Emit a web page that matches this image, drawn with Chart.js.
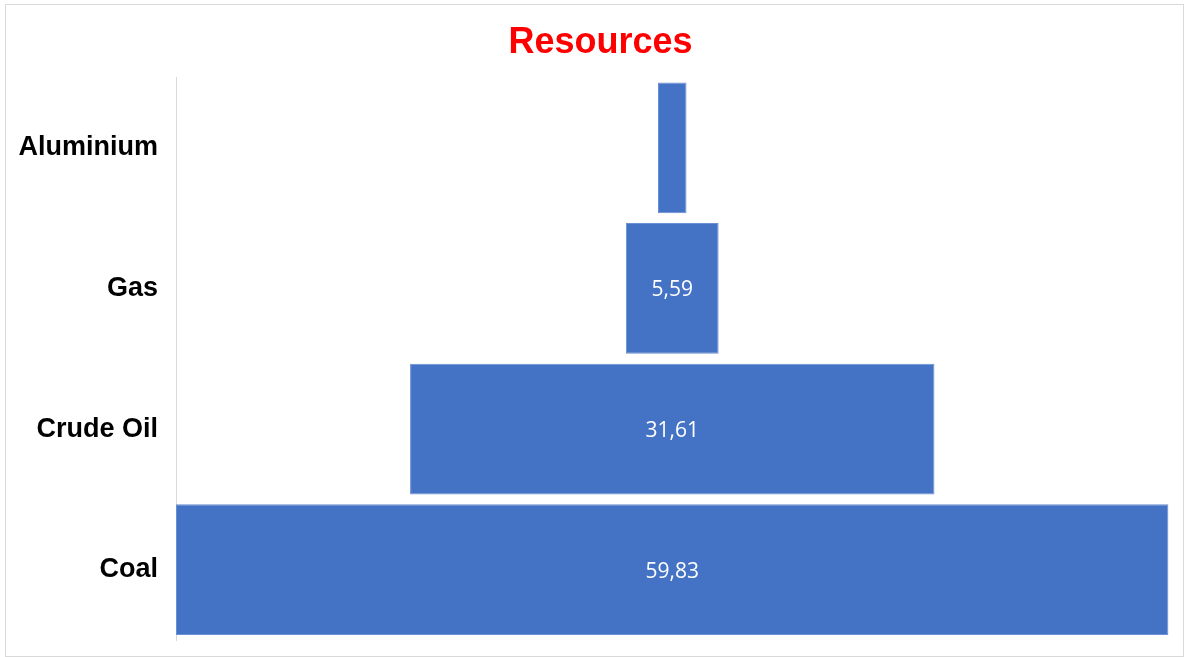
<!DOCTYPE html>
<html>
<head>
<meta charset="utf-8">
<title>Resources</title>
<script src="https://cdn.jsdelivr.net/npm/chart.js@4.4.1/dist/chart.umd.min.js"></script>
<style>
  html, body { margin: 0; padding: 0; background: #ffffff; }
  #wrap { width: 1184px; height: 657px; position: relative; }
</style>
</head>
<body>
<div id="wrap"><canvas id="chart" width="1184" height="657"></canvas></div>
<script>
// Funnel of resources: one centred floating bar per category
const categories = ['Aluminium', 'Gas', 'Crude Oil', 'Coal'];
const values = [1.72, 5.59, 31.61, 59.83];
const chartTitle = 'Resources';

const maxValue = Math.max(...values);
const funnelData = values.map(v => [-v / 2, v / 2]);

function formatValue(v) {
  return v.toFixed(2).replace('.', ',');
}

// Frame around the whole chart plus the red heading
const framePlugin = {
  id: 'frame',
  beforeDraw(chart) {
    const ctx = chart.ctx;
    ctx.save();
    ctx.fillStyle = '#ffffff';
    ctx.fillRect(0, 0, chart.width, chart.height);
    ctx.strokeStyle = '#d9d9d9';
    ctx.lineWidth = 1;
    ctx.strokeRect(5.5, 4.5, 1178, 652);
    ctx.restore();
  },
  afterDraw(chart) {
    const ctx = chart.ctx;
    ctx.save();
    ctx.fillStyle = '#ff0000';
    ctx.font = 'bold 36px "Liberation Sans", Arial, sans-serif';
    ctx.textAlign = 'center';
    ctx.textBaseline = 'alphabetic';
    ctx.fillText(chartTitle, 600.5, 53);
    ctx.restore();
  }
};

// Value labels inside the bars, skipped when the bar is narrower than its text
const valueLabelPlugin = {
  id: 'valueLabels',
  afterDatasetsDraw(chart) {
    const ctx = chart.ctx;
    const meta = chart.getDatasetMeta(0);
    ctx.save();
    ctx.font = '21px "Open Sans", sans-serif';
    ctx.fillStyle = '#ffffff';
    ctx.textAlign = 'center';
    ctx.textBaseline = 'middle';
    meta.data.forEach((bar, i) => {
      const text = formatValue(values[i]);
      const props = bar.getProps(['x', 'y', 'base'], true);
      const barWidth = Math.abs(props.x - props.base);
      if (ctx.measureText(text).width + 6 > barWidth) return;
      ctx.fillText(text, (props.x + props.base) / 2, props.y + 2);
    });
    ctx.restore();
  }
};

new Chart(document.getElementById('chart'), {
  type: 'bar',
  data: {
    labels: categories,
    datasets: [{
      data: funnelData,
      backgroundColor: '#4472c4',
      borderColor: '#6a8fd2',
      borderWidth: 1,
      borderSkipped: false,
      barPercentage: 0.93,
      categoryPercentage: 1.0
    }]
  },
  options: {
    indexAxis: 'y',
    responsive: false,
    animation: false,
    devicePixelRatio: 1,
    layout: { padding: { left: 0, right: 15.5, top: 77.5, bottom: 17 } },
    plugins: {
      legend: { display: false },
      title: { display: false },
      tooltip: { enabled: false }
    },
    scales: {
      x: {
        display: false,
        min: -maxValue / 2,
        max: maxValue / 2
      },
      y: {
        afterFit(scale) {
          scale.width = 176;
          scale.paddingTop = 0;
          scale.paddingBottom = 0;
        },
        grid: { display: false, drawTicks: false },
        border: { display: true, color: '#d9d9d9', width: 1 },
        ticks: {
          padding: 18,
          color: '#000000',
          font: { family: '"Liberation Sans", Arial, sans-serif', size: 27, weight: 'bold' }
        }
      }
    }
  },
  plugins: [framePlugin, valueLabelPlugin]
});
</script>
</body>
</html>
